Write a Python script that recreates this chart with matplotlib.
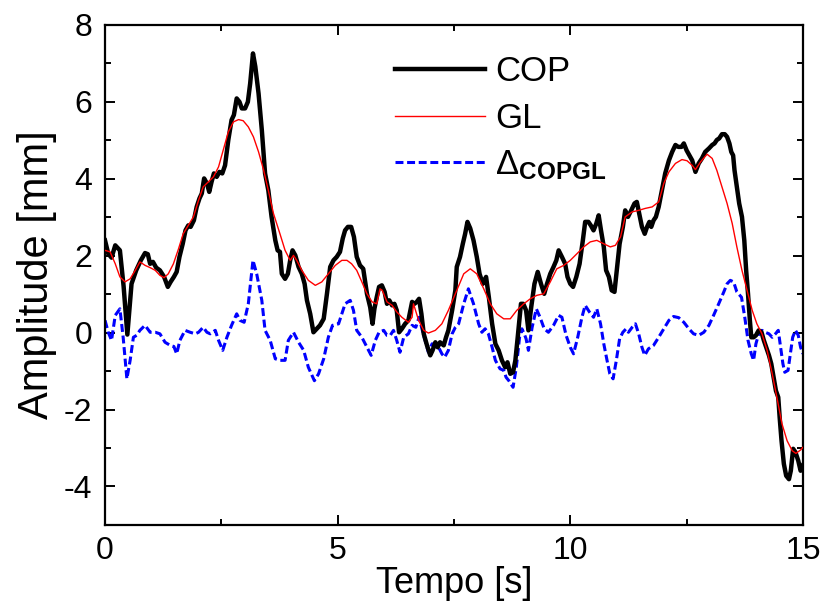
import matplotlib
matplotlib.use('Agg')

import matplotlib.pyplot as plt
from matplotlib.ticker import MultipleLocator

plt.rcParams['font.family'] = ['Liberation Sans', 'DejaVu Sans']
plt.rcParams['axes.unicode_minus'] = False
plt.rcParams['mathtext.fontset'] = 'custom'
plt.rcParams['mathtext.rm'] = 'Liberation Sans'
plt.rcParams['mathtext.it'] = 'Liberation Sans'
plt.rcParams['mathtext.bf'] = 'Liberation Sans:bold'

# COP trace (time [s], amplitude [mm])
cop_t = [0.00, 0.07, 0.14, 0.22, 0.32, 0.40, 0.48, 0.57, 0.67, 0.77, 0.86, 0.92,
         0.97, 1.03, 1.10, 1.18, 1.27, 1.35, 1.41, 1.48, 1.54, 1.60, 1.67, 1.73,
         1.79, 1.84, 1.91, 1.97, 2.03, 2.08, 2.13, 2.19, 2.24, 2.29, 2.34, 2.40,
         2.46, 2.52, 2.58, 2.65, 2.72, 2.77, 2.83, 2.89, 2.94, 3.01, 3.07, 3.12,
         3.18, 3.23, 3.30, 3.37, 3.44, 3.51, 3.58, 3.66, 3.71, 3.76, 3.80, 3.87,
         3.93, 3.98, 4.03, 4.09, 4.16, 4.23, 4.29, 4.34, 4.41, 4.48, 4.55, 4.62,
         4.70, 4.77, 4.84, 4.91, 4.98, 5.05, 5.11, 5.16, 5.22, 5.29, 5.35, 5.41,
         5.48, 5.55, 5.63, 5.70, 5.75, 5.79, 5.84, 5.89, 5.95, 6.01, 6.06, 6.11,
         6.17, 6.22, 6.27, 6.32, 6.38, 6.45, 6.52, 6.60, 6.65, 6.70, 6.75, 6.80,
         6.85, 6.92, 6.99, 7.04, 7.10, 7.15, 7.20, 7.28, 7.33, 7.38, 7.46, 7.53,
         7.56, 7.63, 7.69, 7.74, 7.79, 7.85, 7.92, 7.99, 8.05, 8.12, 8.19, 8.25,
         8.32, 8.39, 8.46, 8.53, 8.60, 8.65, 8.71, 8.77, 8.82, 8.87, 8.94, 8.99,
         9.05, 9.10, 9.16, 9.23, 9.30, 9.37, 9.44, 9.50, 9.57, 9.64, 9.70, 9.75,
         9.82, 9.89, 9.94, 10.00, 10.06, 10.13, 10.20, 10.27, 10.32, 10.39, 10.44,
         10.50, 10.56, 10.61, 10.66, 10.72, 10.77, 10.83, 10.89, 10.95, 11.00,
         11.06, 11.13, 11.18, 11.24, 11.31, 11.38, 11.43, 11.48, 11.54, 11.60,
         11.65, 11.70, 11.74, 11.79, 11.84, 11.90, 11.97, 12.04, 12.12, 12.19,
         12.26, 12.32, 12.39, 12.44, 12.50, 12.56, 12.62, 12.69, 12.76, 12.83,
         12.90, 12.98, 13.05, 13.10, 13.15, 13.20, 13.26, 13.32, 13.37, 13.42,
         13.46, 13.50, 13.53, 13.58, 13.63, 13.69, 13.74, 13.78, 13.82, 13.86,
         13.89, 13.94, 13.99, 14.05, 14.11, 14.16, 14.21, 14.27, 14.32, 14.37,
         14.42, 14.47, 14.50, 14.54, 14.59, 14.64, 14.70, 14.74, 14.79, 14.84,
         14.90, 14.95, 15.00]
cop_v = [2.40, 2.05, 1.95, 2.27, 2.14, 1.20, -0.05, 1.27, 1.62, 1.88, 2.07, 2.04,
         1.79, 1.84, 1.69, 1.62, 1.45, 1.19, 1.32, 1.45, 1.58, 1.97, 2.31, 2.66,
         2.79, 2.75, 2.92, 3.27, 3.49, 3.62, 4.01, 3.88, 3.66, 3.92, 4.14, 4.05,
         4.18, 4.14, 4.35, 5.01, 5.53, 5.66, 6.09, 6.00, 5.83, 5.83, 6.00, 6.48,
         7.26, 6.92, 6.22, 5.27, 4.14, 3.70, 3.01, 2.40, 2.14, 2.10, 1.53, 1.40,
         1.53, 1.88, 2.14, 2.01, 1.71, 1.53, 1.27, 0.84, 0.49, 0.01, 0.10, 0.19,
         0.36, 1.01, 1.71, 1.88, 1.97, 2.10, 2.45, 2.66, 2.75, 2.75, 2.49, 1.97,
         1.75, 1.66, 1.01, 0.66, 0.23, 0.62, 0.92, 1.19, 1.23, 1.06, 0.75, 0.84,
         0.71, 0.75, 0.58, 0.01, 0.10, 0.23, 0.32, 0.80, 0.75, 0.80, 0.88, 0.49,
         -0.03, -0.33, -0.59, -0.46, -0.25, -0.38, -0.25, -0.33, -0.12, 0.06, 0.58, 1.10,
         1.71, 1.97, 2.31, 2.57, 2.88, 2.71, 2.40, 1.97, 1.53, 1.27, 1.45, 0.92,
         0.23, -0.29, -0.46, -0.72, -0.90, -0.77, -1.07, -1.03, -0.72, -0.12, 0.75, 0.75,
         0.58, 0.06, 0.66, 1.27, 1.58, 1.27, 1.01, 1.27, 1.53, 1.71, 1.88, 2.14,
         1.97, 1.79, 1.45, 1.27, 1.19, 1.45, 1.79, 2.40, 2.88, 2.88, 2.79,
         2.66, 2.84, 3.05, 2.66, 2.23, 1.62, 1.45, 1.10, 1.06, 1.62,
         2.31, 2.75, 3.18, 3.01, 3.18, 3.36, 3.40, 3.10, 2.75, 2.57,
         2.75, 2.88, 2.75, 2.92, 3.01, 3.27, 3.70, 4.14, 4.48, 4.70,
         4.88, 4.83, 4.83, 4.92, 4.74, 4.61, 4.48, 4.18, 4.40, 4.53,
         4.70, 4.79, 4.88, 4.92, 5.01, 5.05, 5.16, 5.16, 5.09, 4.92,
         4.70, 4.61, 4.22, 3.79, 3.36, 3.01, 2.40, 1.62, 1.01, 0.32,
         -0.12, -0.12, -0.07, 0.06, 0.01, -0.20, -0.38, -0.59, -0.81, -1.16,
         -1.51, -1.68, -2.20, -2.81, -3.41, -3.72, -3.81, -3.59, -3.02, -3.11,
         -3.33, -3.59, -3.45]

# GL (smoothed) trace
gl_t = [0.00, 0.11, 0.22, 0.32, 0.43, 0.54, 0.65, 0.75, 0.86, 0.97, 1.08, 1.18,
        1.27, 1.36, 1.47, 1.58, 1.68, 1.79, 1.90, 2.01, 2.11, 2.22, 2.33, 2.44,
        2.54, 2.65, 2.76, 2.87, 2.97, 3.08, 3.19, 3.30, 3.41, 3.51, 3.62, 3.76,
        3.87, 3.98, 4.05, 4.12, 4.23, 4.37, 4.52, 4.66, 4.80, 4.95, 5.09, 5.20,
        5.30, 5.41, 5.52, 5.63, 5.74, 5.84, 5.91, 5.96, 6.06, 6.17, 6.27, 6.38,
        6.52, 6.60, 6.63, 6.74, 6.85, 6.95, 7.10, 7.24, 7.38, 7.53, 7.71, 7.85,
        7.99, 8.14, 8.28, 8.42, 8.57, 8.71, 8.85, 9.00, 9.14, 9.28, 9.43, 9.57,
        9.71, 9.86, 10.00, 10.14, 10.29, 10.43, 10.57, 10.72, 10.86, 10.97, 11.08,
        11.18, 11.33, 11.47, 11.61, 11.76, 11.90, 12.01, 12.12, 12.26, 12.40,
        12.51, 12.62, 12.69, 12.80, 12.94, 13.05, 13.15, 13.26, 13.37, 13.48,
        13.58, 13.69, 13.80, 13.91, 14.01, 14.12, 14.23, 14.34, 14.44, 14.55,
        14.66, 14.77, 14.85, 14.95, 15.00]
gl_v = [2.14, 2.10, 1.79, 1.45, 1.32, 1.40, 1.62, 1.84, 1.75, 1.69, 1.62, 1.49,
        1.43, 1.53, 1.79, 2.18, 2.57, 2.79, 3.01, 3.44, 3.79, 3.92, 4.05, 4.31,
        4.74, 5.22, 5.48, 5.54, 5.51, 5.35, 5.09, 4.70, 4.22, 3.70, 3.10, 2.57,
        2.14, 1.88, 2.01, 1.88, 1.62, 1.36, 1.23, 1.32, 1.53, 1.75, 1.88, 1.88,
        1.79, 1.62, 1.32, 1.01, 0.80, 0.75, 1.14, 1.10, 0.80, 0.71, 0.54, 0.40,
        0.27, 0.40, 0.75, 0.32, 0.06, -0.01, 0.06, 0.23, 0.58, 1.01, 1.53, 1.66,
        1.53, 1.14, 0.75, 0.49, 0.36, 0.36, 0.58, 0.75, 0.88, 0.97, 1.01, 1.32,
        1.66, 1.75, 1.88, 2.05, 2.23, 2.36, 2.40, 2.31, 2.23, 2.27, 2.49,
        3.01, 3.14, 3.18, 3.23, 3.27, 3.40, 3.88, 4.18, 4.40, 4.50,
        4.47, 4.35, 4.24, 4.44, 4.64, 4.53, 4.22, 3.79, 3.36, 2.84,
        2.23, 1.62, 1.10, 0.58, 0.23, -0.03, -0.46, -1.07, -1.68, -2.37,
        -2.81, -3.07, -3.14, -3.05, -2.98]

# Difference COP - GL as drawn
d_t = [0.00, 0.07, 0.14, 0.22, 0.32, 0.39, 0.47, 0.54, 0.61, 0.68, 0.75, 0.86,
       0.97, 1.08, 1.18, 1.29, 1.40, 1.48, 1.54, 1.61, 1.72, 1.83, 1.94, 2.01,
       2.11, 2.19, 2.26, 2.37, 2.44, 2.53, 2.62, 2.72, 2.83, 2.90, 2.99, 3.08,
       3.18, 3.26, 3.37, 3.44, 3.55, 3.66, 3.76, 3.87, 3.94, 4.05, 4.16, 4.27,
       4.37, 4.50, 4.59, 4.70, 4.80, 4.89, 5.02, 5.09, 5.16, 5.27, 5.34, 5.41,
       5.52, 5.63, 5.72, 5.81, 5.89, 5.99, 6.06, 6.13, 6.20, 6.27, 6.34, 6.42,
       6.52, 6.60, 6.68, 6.75, 6.82, 6.88, 6.95, 7.03, 7.10, 7.17, 7.24, 7.30,
       7.38, 7.46, 7.53, 7.60, 7.71, 7.81, 7.92, 8.03, 8.10, 8.17, 8.24, 8.32,
       8.39, 8.49, 8.57, 8.62, 8.68, 8.77, 8.84, 8.91, 8.96, 9.01, 9.05, 9.10,
       9.18, 9.27, 9.35, 9.44, 9.53, 9.64, 9.75, 9.82, 9.91, 10.00, 10.07, 10.16,
       10.25, 10.32, 10.41, 10.50, 10.57, 10.65, 10.72, 10.79, 10.85, 10.92,
       10.99, 11.06, 11.13, 11.20, 11.25, 11.33, 11.40, 11.47, 11.54, 11.60,
       11.68, 11.79, 11.90, 12.01, 12.12, 12.22, 12.33, 12.44, 12.55, 12.65,
       12.76, 12.87, 12.98, 13.08, 13.19, 13.30, 13.37, 13.44, 13.51, 13.58,
       13.68, 13.75, 13.82, 13.89, 13.94, 13.99, 14.05, 14.12, 14.19, 14.27,
       14.34, 14.41, 14.47, 14.52, 14.57, 14.61, 14.68, 14.73, 14.78, 14.84,
       14.90, 14.95, 15.00]
d_v = [0.32, 0.01, -0.20, 0.45, 0.62, -0.12, -1.20, -0.72, -0.12, -0.07, 0.06, 0.19,
       0.01, 0.01, -0.03, -0.25, -0.33, -0.36, -0.55, -0.20, 0.06, 0.01, -0.03, 0.01,
       0.14, 0.01, -0.03, 0.06, -0.20, -0.46, -0.12, 0.19, 0.49, 0.32, 0.27, 0.75,
       1.88, 1.53, 0.84, 0.06, -0.20, -0.68, -0.72, -0.72, -0.20, 0.01, -0.25, -0.46,
       -0.90, -1.25, -1.07, -0.68, -0.12, 0.19, 0.23, 0.49, 0.75, 0.84, 0.58, 0.06,
       -0.12, -0.38, -0.59, -0.20, 0.01, 0.06, -0.07, -0.07, 0.06, -0.20, -0.51, -0.12,
       -0.03, 0.19, 0.14, 0.40, 0.06, -0.20, -0.51, -0.29, -0.33, -0.38, -0.55, -0.64,
       -0.46, -0.03, 0.14, 0.23, 0.75, 1.14, 0.75, 0.23, 0.01, 0.10, -0.03, -0.38,
       -0.72, -0.94, -0.98, -1.16, -1.25, -1.42, -0.90, -0.12, 0.10, -0.03, -0.16, -0.46,
       0.14, 0.62, 0.40, 0.10, 0.01, 0.19, 0.45, 0.40, -0.07, -0.38, -0.55, -0.12,
       0.40, 0.71, 0.54, 0.40, 0.62, 0.23, -0.29, -0.72, -1.07, -1.20,
       -0.72, -0.16, 0.01, 0.10, 0.01, 0.14, 0.23, -0.03, -0.38, -0.59,
       -0.42, -0.33, -0.12, 0.10, 0.32, 0.42, 0.39, 0.27, 0.10, -0.03,
       -0.07, 0.01, 0.19, 0.45, 0.75, 1.06, 1.27, 1.36, 1.32, 1.06,
       0.92, 0.40, -0.20, -0.55, -0.72, -0.29, -0.03, 0.06, 0.01, -0.03,
       -0.12, -0.03, 0.06, -0.38, -0.81, -1.03, -0.98, -0.55, -0.12, 0.06,
       -0.07, -0.38, -0.55]

fig = plt.figure(figsize=(8.23, 6.09), dpi=100)
ax = fig.add_axes([0.1276, 0.138, 0.848, 0.821])

ax.plot(cop_t, cop_v, color='black', linewidth=3.2, label='COP', zorder=3)
ax.plot(gl_t, gl_v, color='#ff0000', linewidth=1.0, label='GL', zorder=4)
ax.plot(d_t, d_v, color='#0000ff', linewidth=2.2, linestyle=(0, (2.6, 1.2)),
        label=r'$\Delta_{\mathbf{COPGL}}$', zorder=2)

ax.set_xlim(0, 15)
ax.set_ylim(-5, 8)
ax.xaxis.set_major_locator(MultipleLocator(5))
ax.xaxis.set_minor_locator(MultipleLocator(2.5))
ax.yaxis.set_minor_locator(MultipleLocator(1))
ax.set_yticks([-4, -2, 0, 2, 4, 6, 8])
ax.tick_params(which='both', direction='in', top=True, right=True, width=1.4)
ax.tick_params(which='major', length=7, labelsize=23)
ax.tick_params(axis='y', which='major', pad=9)
ax.tick_params(axis='x', which='major', pad=8)
ax.tick_params(which='minor', length=4)
for s in ax.spines.values():
    s.set_linewidth(1.6)

ax.set_xlabel('Tempo [s]', fontsize=26, labelpad=0)
ax.set_ylabel('Amplitude [mm]', fontsize=30, labelpad=5)

ax.legend(loc='upper left', bbox_to_anchor=(0.39, 0.975), frameon=False,
          fontsize=25, handlelength=2.6, handletextpad=0.3, labelspacing=0.4,
          borderpad=0)

fig.savefig('out.png', dpi=100)
